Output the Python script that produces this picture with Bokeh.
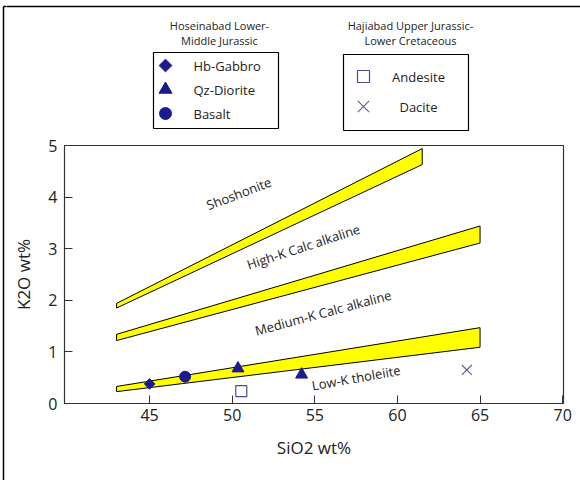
from bokeh.plotting import figure
from bokeh.layouts import column, row
from bokeh.models import FixedTicker, Range1d
from bokeh.core.properties import value
from bokeh.embed import file_html
from bokeh.resources import INLINE

FONT = "Open Sans"
NAVY = "#1b1b8e"
TXT = "#222222"

# ---- data (SiO2 wt%, K2O wt%) ----
gabbro_sio2 = [45.0]
gabbro_k2o = [0.38]
diorite_sio2 = [50.35, 54.2]
diorite_k2o = [0.68, 0.56]
basalt_sio2 = [47.15]
basalt_k2o = [0.52]
andesite_sio2 = [50.55]
andesite_k2o = [0.24]
dacite_sio2 = [64.2]
dacite_k2o = [0.65]

# boundary bands (left/right SiO2 and lower/upper K2O at each end)
band_x_start = [43.0, 43.0, 43.0]
band_x_end = [65.0, 65.0, 61.5]
band_low_start = [0.23, 1.22, 1.85]
band_high_start = [0.33, 1.34, 1.94]
band_low_end = [1.09, 3.11, 4.63]
band_high_end = [1.47, 3.44, 4.94]

zone_names = ["Shoshonite", "High-K Calc alkaline", "Medium-K Calc alkaline", "Low-K tholeiite"]
zone_x = [50.4, 54.3, 55.5, 57.5]
zone_y = [4.07, 3.04, 1.76, 0.50]
zone_angle = [21, 18, 15, 10]

x_ticks = [45, 50, 55, 60, 65, 70]
y_ticks = [0, 1, 2, 3, 4, 5]

group1_title = ["Hoseinabad Lower-", "Middle Jurassic"]
group2_title = ["Hajiabad Upper Jurassic-", "Lower Cretaceous"]
group1_labels = ["Hb-Gabbro", "Qz-Diorite", "Basalt"]
group2_labels = ["Andesite", "Dacite"]

W, H = 580, 480
TOP_H = 135
MAIN_H = H - TOP_H
STRIP_W = 6

# ---------------- main chart ----------------
p = figure(width=W - STRIP_W, height=MAIN_H, output_backend="svg", toolbar_location=None,
           title=None, frame_align=False,
           x_range=Range1d(39.85, 70.05), y_range=Range1d(0, 5.0),
           min_border_left=64 - STRIP_W, min_border_right=17,
           min_border_top=145 - TOP_H, min_border_bottom=77)
p.grid.visible = False
p.background_fill_color = "white"
p.border_fill_color = "white"
p.outline_line_color = "#333333"
p.outline_line_width = 1.2

for ax in (p.xaxis[0], p.yaxis[0]):
    ax.major_tick_in = 8
    ax.major_tick_out = 0
    ax.minor_tick_line_color = None
    ax.axis_line_color = "#333333"
    ax.major_tick_line_color = "#333333"
    ax.major_label_text_font = FONT
    ax.major_label_text_font_size = "16px"
    ax.major_label_text_color = TXT
    ax.axis_label_text_font = FONT
    ax.axis_label_text_font_size = "17px"
    ax.axis_label_text_font_style = "normal"
    ax.axis_label_text_color = TXT

p.xaxis.ticker = FixedTicker(ticks=x_ticks)
p.yaxis.ticker = FixedTicker(ticks=y_ticks)
p.xaxis.axis_label = "SiO2 wt%"
p.yaxis.axis_label = "K2O wt%"
p.xaxis.major_label_standoff = 5
p.yaxis.major_label_standoff = 7
p.xaxis.axis_label_standoff = 12
p.yaxis.axis_label_standoff = 10

xs = [[a, a, b, b] for a, b in zip(band_x_start, band_x_end)]
ys = [[l0, h0, h1, l1] for l0, h0, h1, l1 in zip(band_low_start, band_high_start, band_high_end, band_low_end)]
p.patches(xs, ys, fill_color="#ffff00", line_color="black", line_width=1)

p.text(x=zone_x, y=zone_y, text=zone_names, angle=zone_angle, angle_units="deg",
       text_align="center", text_baseline="middle", text_font=value(FONT),
       text_font_size="13px", text_color=TXT)

p.scatter(gabbro_sio2, gabbro_k2o, marker="square", angle=45, angle_units="deg", size=7.5,
          fill_color=NAVY, line_color=NAVY)
p.scatter(diorite_sio2, diorite_k2o, marker="triangle", size=12, fill_color=NAVY, line_color=NAVY)
p.scatter(basalt_sio2, basalt_k2o, marker="circle", size=11, fill_color=NAVY, line_color=NAVY)
p.scatter(andesite_sio2, andesite_k2o, marker="square", size=11, fill_color=None,
          line_color="#4a4aa0", line_width=1.2)
p.scatter(dacite_sio2, dacite_k2o, marker="x", size=14, line_color="#5a5aa0", line_width=1.1)


def blank(width, height, xr, yr):
    f = figure(width=width, height=height, output_backend="svg", toolbar_location=None, title=None,
               frame_align=False,
               x_range=xr, y_range=yr, x_axis_type=None, y_axis_type=None,
               min_border_left=0, min_border_right=0, min_border_top=0, min_border_bottom=0)
    f.grid.visible = False
    f.outline_line_color = None
    f.border_fill_color = "white"
    f.background_fill_color = "white"
    return f


# ---------------- legend area (pixel coordinates of the page) ----------------
top = blank(W - STRIP_W, TOP_H, Range1d(STRIP_W, W), Range1d(TOP_H, 0))

# outer border (top edge)
top.segment(x0=[0], y0=[6], x1=[W + 10], y1=[6], line_color="black", line_width=1.5)

# legend boxes
top.quad(left=[153, 343], right=[278, 468], top=[52, 54], bottom=[128, 130],
         fill_color=None, line_color="black", line_width=1.2)

# group titles
top.text(x=[219, 219], y=[25, 39.5], text=group1_title, text_align="center", text_baseline="middle",
         text_font=value(FONT), text_font_size="11px", text_color=TXT)
top.text(x=[410, 410], y=[25, 40], text=group2_title, text_align="center", text_baseline="middle",
         text_font=value(FONT), text_font_size="11px", text_color=TXT)

# legend keys
top.scatter([165], [65], marker="square", angle=45, angle_units="deg", size=9,
            fill_color=NAVY, line_color=NAVY)
top.scatter([165], [89], marker="triangle", size=13, fill_color=NAVY, line_color=NAVY)
top.scatter([165], [113], marker="circle", size=12, fill_color=NAVY, line_color=NAVY)
top.scatter([363], [76], marker="square", size=12, fill_color=None, line_color="#4a4aa0", line_width=1.2)
top.scatter([363], [106], marker="x", size=16, line_color="#5a5aa0", line_width=1.1)

top.text(x=[193, 193, 193], y=[65, 89, 113], text=group1_labels, text_align="left",
         text_baseline="middle", text_font=value(FONT), text_font_size="13px", text_color=TXT)
top.text(x=[418, 418], y=[76, 106], text=group2_labels, text_align="center",
         text_baseline="middle", text_font=value(FONT), text_font_size="13px", text_color=TXT)

# ---------------- left border strip (full height) ----------------
strip = blank(STRIP_W, H, Range1d(0, STRIP_W), Range1d(H, 0))
strip.segment(x0=[3, 3], y0=[6, 6], x1=[3, STRIP_W + 5], y1=[H + 10, 6],
              line_color="black", line_width=1.5)

layout = row(strip, column(top, p, spacing=0), spacing=0)
open("out.html", "w").write(file_html(layout, INLINE))
